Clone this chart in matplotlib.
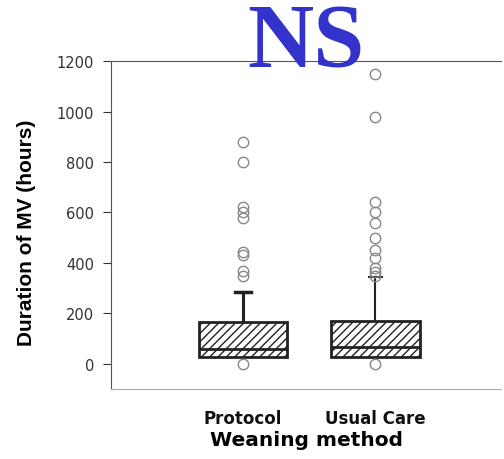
import matplotlib
matplotlib.use("Agg")
import matplotlib.pyplot as plt

# box statistics (hours)
groups = ["Protocol", "Usual Care"]
q1 = [28, 28]
medians = [58, 65]
q3 = [166, 168]
whislo = [28, 28]
whishi = [285, 345]
outliers_protocol = [0, 350, 370, 430, 445, 580, 600, 620, 800, 880]
outliers_usual = [0, 350, 365, 380, 420, 450, 500, 560, 600, 640, 980, 1150]
yticks = [0, 200, 400, 600, 800, 1000, 1200]

plt.rcParams['font.family'] = ['DejaVu Sans']

fig = plt.figure(figsize=(5.04, 4.60), dpi=100)
ax = fig.add_axes([0.220, 0.152, 0.774, 0.713])

stats = []
fliers = [outliers_protocol, outliers_usual]
for i, name in enumerate(groups):
    stats.append(dict(label=name, q1=q1[i], med=medians[i], q3=q3[i],
                      whislo=whislo[i], whishi=whishi[i], fliers=fliers[i]))

bp = ax.bxp(stats, positions=[1, 2], widths=0.67, patch_artist=True,
            showcaps=True, capwidths=0.12,
            boxprops=dict(facecolor="white", edgecolor="#222222", linewidth=2, hatch="////"),
            medianprops=dict(color="#222222", linewidth=2),
            whiskerprops=dict(color="#222222", linewidth=2.2),
            capprops=dict(color="#222222", linewidth=2.5),
            flierprops=dict(marker="o", markerfacecolor="none", markeredgecolor="#888888",
                            markersize=7.5, markeredgewidth=1, linestyle="none"))
# the lower whiskers collapse into the box bottom
bp["caps"][0].set_visible(False)
bp["caps"][2].set_visible(False)
bp["whiskers"][3].set_linewidth(1.5)
bp["caps"][3].set_linewidth(1.5)
bp["caps"][3].set_xdata([1.95, 2.05])

ax.set_xlim(0, 2.95)
ax.set_ylim(-100, 1200)
ax.set_yticks(yticks)
ax.tick_params(axis="y", labelsize=10.5, colors="#333333", length=6, direction="out", pad=6)
ax.tick_params(axis="x", length=0, pad=14)
ax.set_xticks([1, 2])
ax.set_xticklabels(groups, fontweight="bold", fontsize=12, color="#111111")

ax.set_ylabel("Duration of MV (hours)", fontsize=15, fontweight="bold",
              family=["Liberation Sans", "DejaVu Sans"])
ax.yaxis.set_label_coords(-0.192, 0.48)
ax.set_xlabel("Weaning method", fontsize=14.5, fontweight="bold", labelpad=4)
ax.xaxis.set_label_coords(0.502, -0.125)

ax.spines["right"].set_visible(False)
ax.spines["top"].set_color("#555555")
ax.spines["left"].set_color("#555555")
ax.spines["bottom"].set_color("#aaaaaa")

fig.text(0.607, 0.855, "NS", family=["Liberation Serif", "DejaVu Serif"],
         fontsize=66, fontweight="bold", color="#3333cc", ha="center", va="baseline")

fig.savefig("out.png", dpi=100)
